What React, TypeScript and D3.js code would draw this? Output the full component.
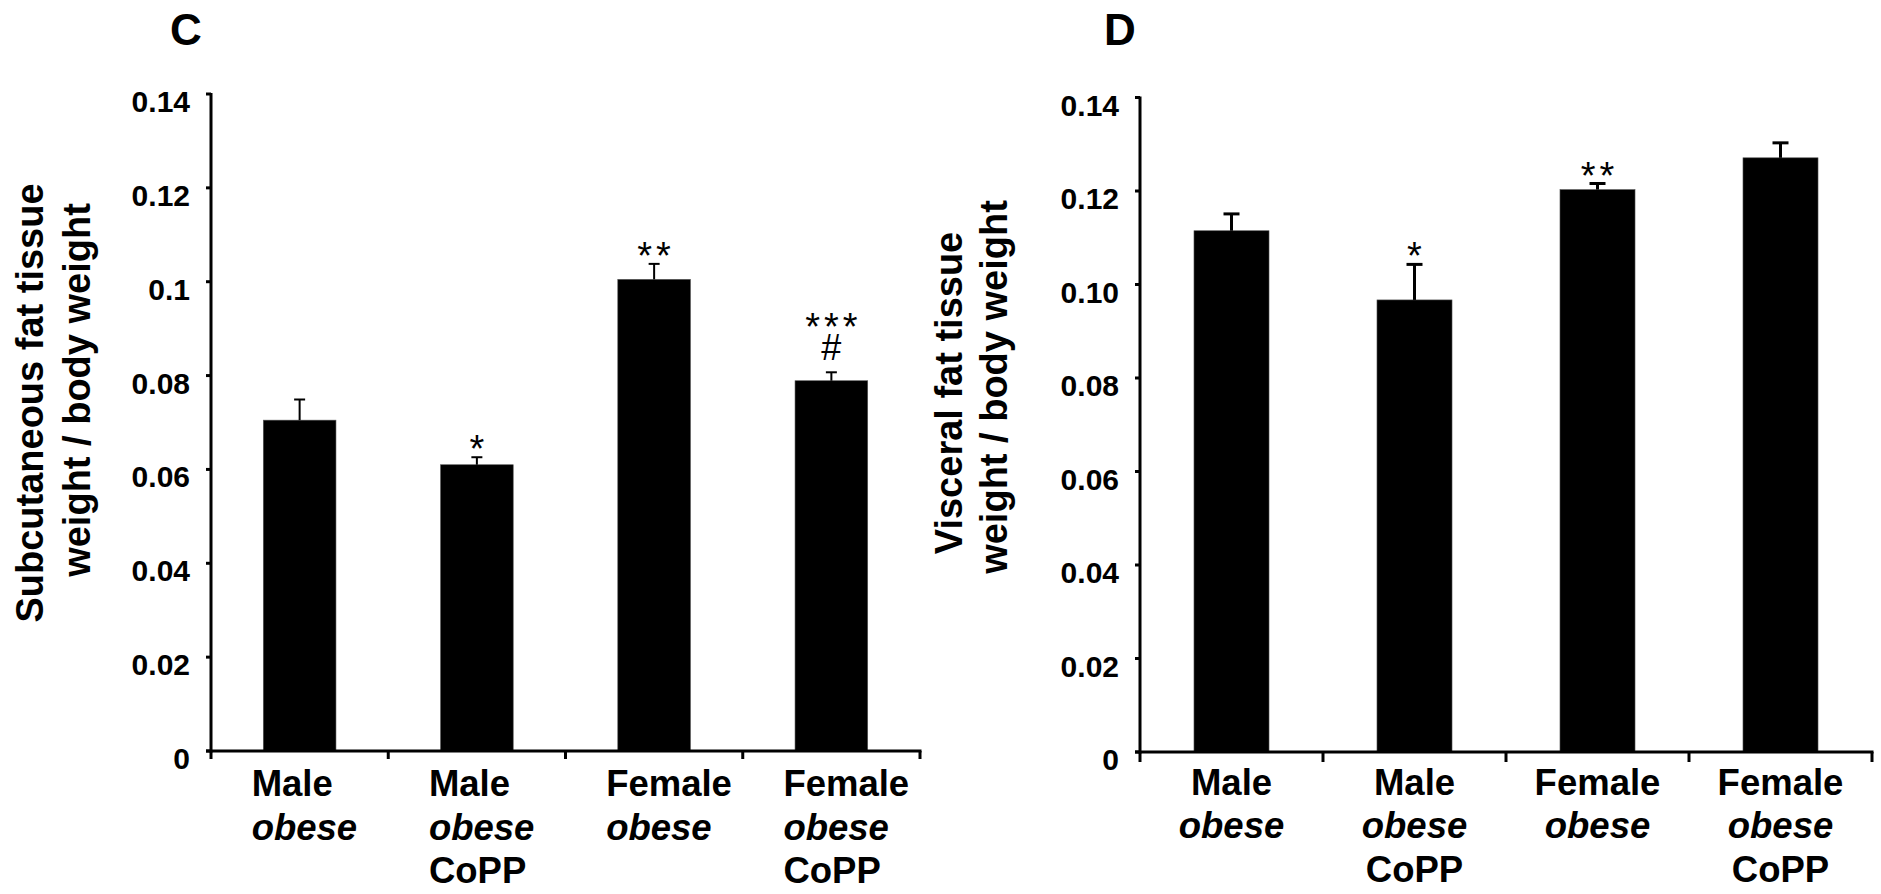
import React from 'react';
import * as d3 from 'd3';

// ---------- data ----------
const categories = ['Male obese', 'Male obese CoPP', 'Female obese', 'Female obese CoPP'];
const categoryLines = [
  ['Male', 'obese'],
  ['Male', 'obese', 'CoPP'],
  ['Female', 'obese'],
  ['Female', 'obese', 'CoPP'],
];
const subcutMeans = [0.0705, 0.061, 0.1005, 0.0789];
const subcutErrors = [0.0044, 0.0016, 0.0033, 0.0018];
const subcutMarks = [[], ['*'], ['**'], ['***', '#']];
const visceralMeans = [0.1115, 0.0967, 0.1203, 0.1271];
const visceralErrors = [0.0036, 0.0076, 0.0013, 0.0032];
const visceralMarks = [[], ['*'], ['**'], []];
const yTickValues = [0, 0.02, 0.04, 0.06, 0.08, 0.1, 0.12, 0.14];
const subcutTickLabels = ['0', '0.02', '0.04', '0.06', '0.08', '0.1', '0.12', '0.14'];
const visceralTickLabels = ['0', '0.02', '0.04', '0.06', '0.08', '0.10', '0.12', '0.14'];
const subcutTitle = ['Subcutaneous fat tissue', 'weight / body weight'];
const visceralTitle = ['Visceral fat tissue', 'weight / body weight'];

const FONT = '"Liberation Sans", Arial, Helvetica, sans-serif';

type PanelCfg = {
  letter: string;
  letterX: number;
  xRange: [number, number];
  yRange: [number, number];
  means: number[];
  errors: number[];
  marks: string[][];
  tickLabels: string[];
  title: string[];
  titleX: number[];
  titleY: number[];
  xTickLen: number;
  errStroke: number;
  capW: number;
  labelAlign: 'start' | 'middle';
  labelOffset: number;
  labelBaselines: number[];
};

function Panel({ cfg }: { cfg: PanelCfg }) {
  const x = d3.scaleBand<string>().domain(categories).range(cfg.xRange).paddingInner(0).paddingOuter(0);
  const y = d3.scaleLinear().domain([0, 0.14]).range(cfg.yRange);
  const step = x.step();
  const barW = step * 0.41;
  const x0 = cfg.xRange[0];
  const y0 = y(0);
  const yTickLen = 5;
  const axisW = 3;

  const boundaries = d3.range(categories.length + 1).map((i) => x0 + i * step);

  return (
    <g>
      <text x={cfg.letterX} y={45} textAnchor="middle" fontFamily={FONT} fontWeight="bold" fontSize={44}>
        {cfg.letter}
      </text>

      {/* y title */}
      {cfg.title.map((t, i) => (
        <text
          key={i}
          transform={`translate(${cfg.titleX[i]},${cfg.titleY[i]}) rotate(-90)`}
          textAnchor="middle"
          fontFamily={FONT}
          fontWeight="bold"
          fontSize={38}
        >
          {t}
        </text>
      ))}

      {/* bars */}
      {categories.map((c, i) => {
        const cx = (x(c) as number) + step / 2;
        const top = y(cfg.means[i]);
        return (
          <rect key={c} x={cx - barW / 2} y={top} width={barW} height={y0 - top} fill="#000" stroke="#555" strokeWidth={0.6} />
        );
      })}

      {/* error bars */}
      {categories.map((c, i) => {
        const cx = (x(c) as number) + step / 2;
        const top = y(cfg.means[i]);
        const cap = y(cfg.means[i] + cfg.errors[i]);
        return (
          <g key={c} stroke="#000" strokeWidth={cfg.errStroke}>
            <line x1={cx} x2={cx} y1={top} y2={cap} />
            <line x1={cx - cfg.capW / 2} x2={cx + cfg.capW / 2} y1={cap} y2={cap} />
          </g>
        );
      })}

      {/* significance marks: one text element per bar, stacked lines as tspans */}
      {categories.map((c, i) => {
        if (cfg.marks[i].length === 0) return null;
        const cx = (x(c) as number) + step / 2;
        let cur = y(cfg.means[i] + cfg.errors[i]);
        const items: { t: string; b: number }[] = [];
        const ms = [...cfg.marks[i]].reverse();
        ms.forEach((m) => {
          if (m.startsWith('#')) {
            items.push({ t: m, b: cur - 12 });
            cur = cur - 37;
          } else {
            items.push({ t: m, b: cur + 5 });
            cur = cur - 40;
          }
        });
        items.reverse();
        return (
          <text key={c} textAnchor="middle" fontFamily={FONT}>
            {items.map((it, k) => (
              <tspan
                key={k}
                x={cx + (it.t.startsWith('#') ? 0 : 2)}
                y={it.b}
                fontSize={it.t.startsWith('#') ? 36 : 38}
                letterSpacing={it.t.startsWith('#') ? 0 : 4}
              >
                {it.t}
              </tspan>
            ))}
          </text>
        );
      })}

      {/* y axis */}
      <line x1={x0} x2={x0} y1={y(0.14) - 1} y2={y0 + 1.5} stroke="#000" strokeWidth={axisW} />
      {yTickValues.map((v, i) => (
        <g key={v}>
          <line x1={x0 - yTickLen} x2={x0} y1={y(v)} y2={y(v)} stroke="#000" strokeWidth={axisW} />
          <text x={x0 - 21} y={y(v) + 18} textAnchor="end" fontFamily={FONT} fontWeight="bold" fontSize={30}>
            {cfg.tickLabels[i]}
          </text>
        </g>
      ))}

      {/* x axis */}
      <line x1={x0 - yTickLen} x2={cfg.xRange[1] + 1.5} y1={y0} y2={y0} stroke="#000" strokeWidth={axisW} />
      {boundaries.map((b, i) => (
        <line key={i} x1={b} x2={b} y1={y0} y2={y0 + cfg.xTickLen} stroke="#000" strokeWidth={axisW} />
      ))}

      {/* category labels */}
      {categories.map((c, i) => {
        const cx = (x(c) as number) + step / 2;
        const lx = cfg.labelAlign === 'start' ? cx + cfg.labelOffset : cx;
        return categoryLines[i].map((ln, k) => (
          <text
            key={c + k}
            x={lx}
            y={cfg.labelBaselines[k]}
            textAnchor={cfg.labelAlign}
            fontFamily={FONT}
            fontWeight="bold"
            fontStyle={ln === 'obese' ? 'italic' : 'normal'}
            fontSize={36.5}
          >
            {ln}
          </text>
        ));
      })}
    </g>
  );
}

const leftCfg: PanelCfg = {
  letter: 'C',
  letterX: 186,
  xRange: [211, 920],
  yRange: [751, 94],
  means: subcutMeans,
  errors: subcutErrors,
  marks: subcutMarks,
  tickLabels: subcutTickLabels,
  title: subcutTitle,
  titleX: [43, 90],
  titleY: [403, 390],
  xTickLen: 8,
  errStroke: 2,
  capW: 11,
  labelAlign: 'start',
  labelOffset: -48,
  labelBaselines: [796, 840, 883],
};

const rightCfg: PanelCfg = {
  letter: 'D',
  letterX: 1120,
  xRange: [1140, 1872],
  yRange: [752, 97.5],
  means: visceralMeans,
  errors: visceralErrors,
  marks: visceralMarks,
  tickLabels: visceralTickLabels,
  title: visceralTitle,
  titleX: [962, 1007],
  titleY: [393, 387],
  xTickLen: 10,
  errStroke: 3,
  capW: 16,
  labelAlign: 'middle',
  labelOffset: 0,
  labelBaselines: [795, 838, 882],
};

export default function App() {
  return (
    <svg
      width={1881}
      height={894}
      viewBox="0 0 1881 894"
      style={{ position: 'absolute', left: 0, top: 0, background: '#fff' }}
    >
      <rect x={0} y={0} width={1881} height={894} fill="#fff" />
      <Panel cfg={leftCfg} />
      <Panel cfg={rightCfg} />
    </svg>
  );
}
